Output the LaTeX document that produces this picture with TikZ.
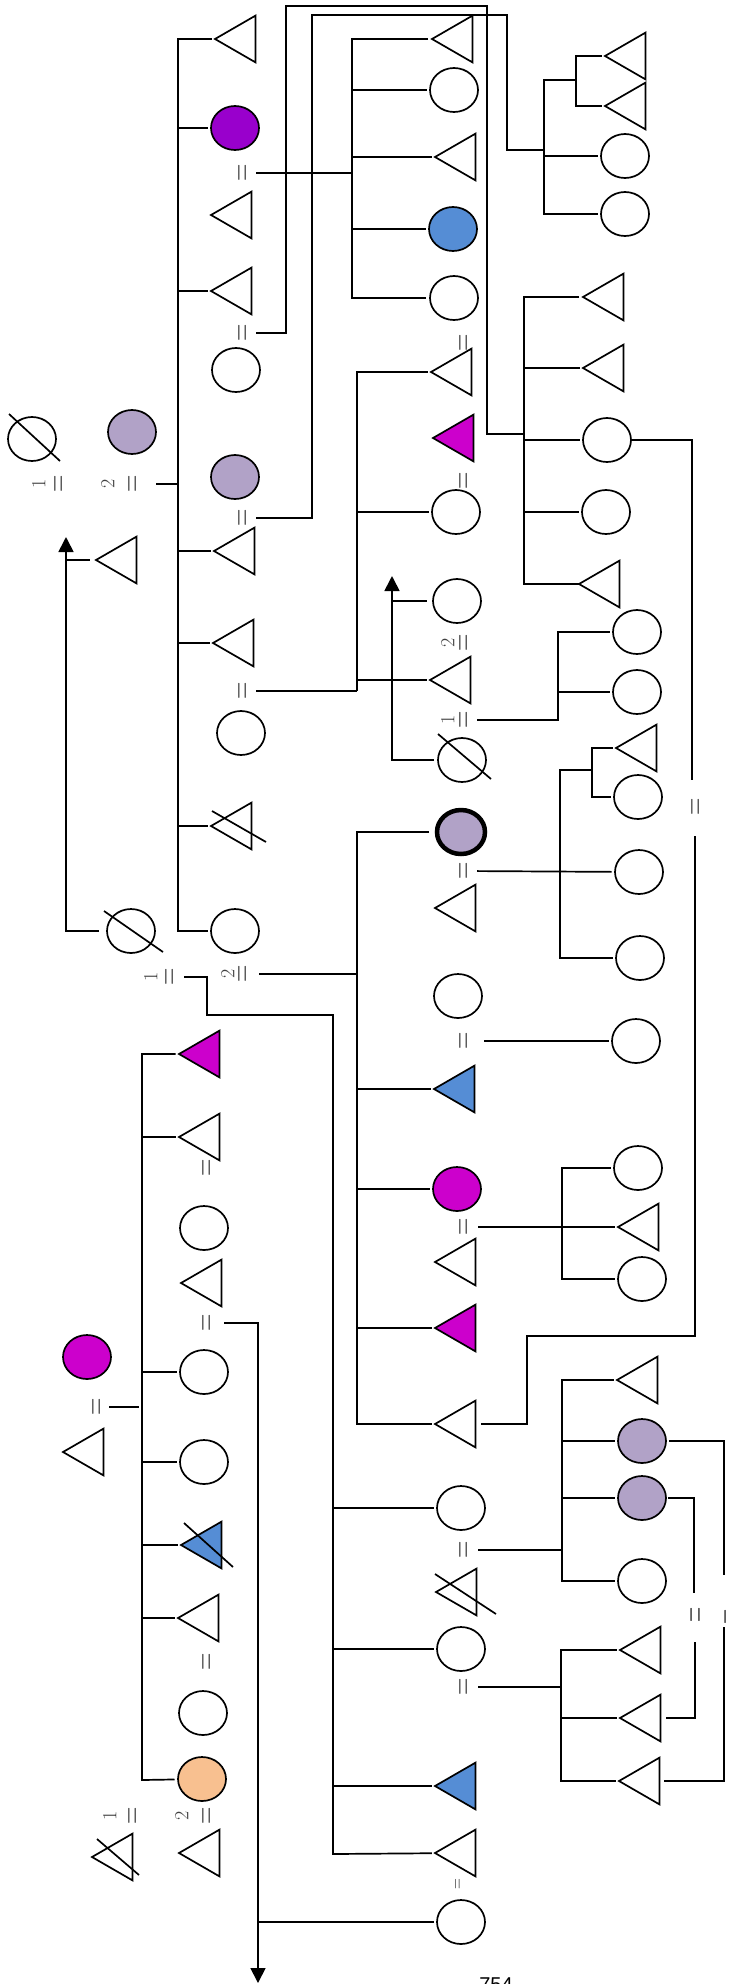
\documentclass[tikz,border=0pt]{standalone}
\usepackage{fontspec}
\newfontfamily\pagenumfont{Liberation Sans}
\usetikzlibrary{shapes.geometric,arrows.meta,calc}
\definecolor{purp}{RGB}{153,0,204}
\definecolor{lav}{RGB}{177,162,199}
\definecolor{blu}{RGB}{85,141,213}
\definecolor{mag}{RGB}{204,0,204}
\definecolor{peach}{RGB}{248,192,144}
\definecolor{eqgray}{RGB}{64,64,64}
\newcommand{\eqglyph}[1]{\scalebox{1}[#1]{=}}
\begin{document}
\begin{tikzpicture}[x=1pt,y=-1pt,
  ln/.style={line width=1.7pt},
  kid/.style={ln, shorten >=3.5pt},
  circ/.style={ellipse, draw, line width=1.7pt, minimum width=48pt, minimum height=44pt, inner sep=0pt, outer sep=0pt},
  tri/.style={regular polygon, regular polygon sides=3, shape border rotate=90, draw, line width=1.7pt, minimum size=54pt, inner sep=0pt, outer sep=0pt},
  eqs/.style={rotate=90, inner sep=0pt, text=eqgray, font=\fontsize{24}{24}\selectfont, text height=18pt, text depth=0pt},
  eqsmall/.style={rotate=90, inner sep=0pt, text=eqgray, font=\fontsize{15}{15}\selectfont, text height=11.25pt, text depth=0pt},
  eqwide/.style={rotate=90, inner sep=0pt, text=eqgray, font=\fontsize{21}{21}\selectfont, text height=22pt, text depth=0pt},
  num/.style={rotate=90, inner sep=0pt, text=eqgray, font=\fontsize{20}{20}\selectfont, text height=12.9pt, text depth=0pt},
  arr/.style={-{Triangle[length=15pt,width=15pt]}},
]
\useasboundingbox (0,0) rectangle (730,1984);

% ---------- generation I (far left) ----------
\node[circ] (X1) at (32,439) {};
\draw[ln] ($(X1)+(-23,-25)$) -- ($(X1)+(28,22)$);
\node[circ, fill=lav] (L1) at (132,432) {};
\node[num] at (39,484) {1};
\node[eqs] (eX1) at (58,484) {\eqglyph{1.5}};
\node[num] at (108,484) {2};
\node[eqs] (eL1) at (132,484) {\eqglyph{1.5}};

% ---------- first sibship (x = 178) ----------
\node[tri] (T1) at (242,39) {};
\node[circ, fill=purp] (C1) at (235,128) {};
\node[eqs] (eC) at (242,173) {\eqglyph{1.5}};
\node[tri] (T2) at (238,215) {};
\node[tri] (T3) at (238,291) {};
\node[eqs] (eA) at (242,333) {\eqglyph{1.5}};
\node[circ] (C2) at (236,370) {};
\node[circ, fill=lav] (C3) at (235,477) {};
\node[eqs] (eB) at (242,518) {\eqglyph{1.5}};
\node[tri] (T4) at (241,551) {};
\node[tri] (T5) at (240,643) {};
\node[eqs] (eF) at (242,691) {\eqglyph{1.5}};
\node[circ] (C5) at (241,733) {};
\node[tri] (T6) at (238,826) {};
\draw[ln] ($(T6)+(-26,-15)$) -- ($(T6)+(28,16)$);
\node[circ] (C4) at (235,931) {};
\node[tri] (T7) at (123,560) {};
\node[circ] (X2) at (131,931) {};
\draw[ln] ($(X2)+(-27,-20)$) -- ($(X2)+(32,21)$);
\node[num] at (151,977) {1};
\node[eqs] (e1b) at (169,977) {\eqglyph{1.5}};
\node[num] at (228,974) {2};
\node[eqs] (e2b) at (242,974) {\eqglyph{1.5}};

\coordinate (s1b) at (178,931);
\draw[ln, shorten <=3.5pt, shorten >=3.5pt] (T1) -| (s1b) -- (C4);
\foreach \k in {C1,T3,T4,T5,T6} \draw[kid] (s1b |- \k) -- (\k);
\draw[ln, shorten <=15pt] (eL1) -- (eL1 -| s1b);

\coordinate (ar1) at (66,537);
\draw[ln, arr, shorten <=8pt] (X2) -| (ar1);
\draw[ln, shorten >=6pt] (ar1 |- T7) -- (T7);

% ---------- second column ----------
\node[tri] (A1) at (459,39) {};
\node[circ] (A2) at (454,90) {};
\node[tri] (A3) at (462,157) {};
\node[circ, fill=blu] (A4) at (453,229) {};
\node[circ] (A5) at (454,298) {};
\coordinate (s2b) at (352,298);
\draw[ln, shorten <=4pt, shorten >=4pt] (A1) -| (s2b) -- (A5);
\foreach \k in {A2,A3,A4} \draw[kid] (s2b |- \k) -- (\k);
\draw[ln, shorten <=5pt] (eC) -- (eC -| s2b);

\node[eqs] at (463,343) {\eqglyph{1.5}};
\node[tri] (B1) at (458,372) {};
\node[tri, fill=mag] (B2) at (460,438) {};
\node[eqs] at (463,481) {\eqglyph{1.5}};
\node[circ] (B3) at (456,512) {};
\node[circ] (B4) at (457,601) {};
\node[num] at (448,643) {2};
\node[eqs] at (463,643) {\eqglyph{1.5}};
\node[tri] (B5) at (457,680) {};
\node[num] at (448,720) {1};
\node[eqs] (eG) at (463,720) {\eqglyph{1.5}};
\node[circ] (B6) at (462,760) {};
\draw[ln] ($(B6)+(-24,-26)$) -- ($(B6)+(29,19)$);

\coordinate (s6b) at (357,691);
\draw[ln, shorten <=3.5pt] (B1) -| (s6b);
\foreach \k in {B3,B5} \draw[kid] (s6b |- \k) -- (\k);
\draw[ln, shorten <=5pt] (eF) -- (s6b);

\coordinate (ar2) at (392,576);
\draw[ln, arr, shorten <=4pt] (B6) -| (ar2);
\draw[ln, shorten >=6pt] (ar2 |- B4) -- (B4);

% ---------- third column, upper part ----------
\node[tri] (E1) at (632,56) {};
\node[tri] (E2) at (632,106) {};
\node[circ] (E3) at (625,156) {};
\node[circ] (E4) at (625,214) {};
\node[tri] (D1) at (610,297) {};
\node[tri] (D2) at (610,368) {};
\node[circ] (D3) at (607,440) {};
\node[circ] (D4) at (606,512) {};
\node[tri] (D5) at (606,584) {};

\coordinate (a1) at (286,6);
\coordinate (a2) at (487,434);
\coordinate (s5b) at (524,584);
\draw[ln, shorten <=5pt] (eA) -| (a1) -| (a2) -- (a2 -| s5b);
\draw[ln, shorten <=4pt] (D1) -| (s5b) -- (D5);
\foreach \k in {D2,D3,D4} \draw[kid] (s5b |- \k) -- (\k);

\coordinate (b1) at (312,15);
\coordinate (b2) at (507,150);
\coordinate (s3t) at (544,80);
\coordinate (s3b) at (544,214);
\coordinate (s4b) at (576,106);
\draw[ln, shorten <=5pt] (eB) -| (b1) -| (b2) -- (b2 -| s3t);
\draw[ln, shorten >=3.5pt] (s3t -| s4b) -- (s3t) -- (s3b) -- (E4);
\draw[ln, shorten <=3.5pt, shorten >=3.5pt] (E1) -| (s4b) -- (E2);
\draw[kid] (s3b |- E3) -- (E3);

\node[circ] (F1) at (637,632) {};
\node[circ] (F2) at (637,692) {};
\coordinate (s7t) at (558,632);
\draw[ln, shorten <=5pt, shorten >=3.5pt] (eG) -| (s7t) -- (F1);
\draw[kid] (s7t |- F2) -- (F2);

\node[tri] (G1) at (643,748) {};
\node[circ] (G2) at (638,797) {};
\node[circ] (G3) at (639,872) {};
\node[circ] (G4) at (640,958) {};
\coordinate (s8t) at (560,770);
\coordinate (s8b) at (560,958);
\coordinate (s9b) at (592,797);
\draw[ln, shorten >=3.5pt] (s8t -| s9b) -- (s8t) -- (s8b) -- (G4);
\draw[ln, shorten <=3.5pt, shorten >=3.5pt] (G1) -| (s9b) -- (G2);

% ---------- second column, middle sibship (x = 357) ----------
\node[circ, fill=lav, line width=4.5pt] (H1) at (461,832) {};
\node[eqs] (eH) at (463,871) {\eqglyph{1.5}};
\node[tri] (H2) at (462,908) {};
\node[circ] (H3) at (458,996) {};
\node[eqs] (eI) at (463,1041) {\eqglyph{1.5}};
\node[tri, fill=blu] (H4) at (461,1089) {};
\node[circ, fill=mag] (H5) at (457,1189) {};
\node[eqs] (eJ) at (463,1227) {\eqglyph{1.5}};
\node[tri] (H6) at (462,1262) {};
\node[tri, fill=mag] (H7) at (462,1328) {};
\node[tri] (H8) at (462,1424) {};
\draw[ln, shorten <=5pt, shorten >=3.5pt] (eH) -- (G3);

\coordinate (s10b) at (357,1424);
\draw[ln, shorten <=8pt, shorten >=3.5pt] (H1) -| (s10b) -- (H8);
\foreach \k in {H4,H5,H7} \draw[kid] (s10b |- \k) -- (\k);
\draw[ln, shorten <=8pt] (e2b) -- (e2b -| s10b);

\node[circ] (I1) at (636,1041) {};
\draw[ln, shorten <=12pt, shorten >=3.5pt] (eI) -- (I1);

\node[circ] (J1) at (638,1168) {};
\node[tri] (J2) at (645,1227) {};
\node[circ] (J3) at (642,1279) {};
\coordinate (s11b) at (562,1279);
\draw[ln, shorten <=3.5pt, shorten >=3.5pt] (J1) -| (s11b) -- (J3);
\draw[ln, shorten <=6pt, shorten >=3.5pt] (eJ) -- (J2);

% long descent line on the right
\node[eqs] (eD) at (695,807) {\eqglyph{1.5}};
\coordinate (g1) at (692,780);
\coordinate (g2) at (695,836);
\coordinate (g3) at (695,1336);
\coordinate (g4) at (527,1424);
\draw[ln, shorten <=1pt] (D3) -- (D3 -| g1) -- (g1);
\draw[ln, shorten >=5pt] (g2) -- (g3) -| (g4) -- (H8);

% ---------- second column, lower sibship (x = 333) ----------
\node[circ] (K1) at (461,1508) {};
\node[eqs] (eM) at (463,1550) {\eqglyph{1.5}};
\node[tri] (K2) at (463,1592) {};
\draw[ln] ($(K2)+(-28,-18)$) -- ($(K2)+(33,22)$);
\node[circ] (K3) at (461,1649) {};
\node[eqs] (eN) at (463,1687) {\eqglyph{1.5}};
\node[tri, fill=blu] (K4) at (462,1786) {};
\node[tri] (K5) at (462,1853) {};
\node[eqsmall] at (457,1884) {\eqglyph{1.4}};
\node[circ] (K6) at (461,1922) {};

\coordinate (c1) at (207,1015);
\coordinate (s12b) at (333,1854);
\draw[ln, shorten <=6pt, shorten >=3.5pt] (e1b) -| (c1) -| (s12b) -- (K5);
\foreach \k in {K1,K3,K4} \draw[kid] (s12b |- \k) -- (\k);

\node[tri] (M1) at (644,1380) {};
\node[circ, fill=lav] (M2) at (642,1441) {};
\node[circ, fill=lav] (M3) at (642,1498) {};
\node[circ] (M4) at (642,1581) {};
\coordinate (s13b) at (562,1581);
\draw[ln, shorten <=3.5pt, shorten >=3.5pt] (M1) -| (s13b) -- (M4);
\draw[kid] (s13b |- M2) -- (M2);
\draw[kid] (s13b |- M3) -- (M3);
\draw[ln, shorten <=6pt] (eM) -- (eM -| s13b);

\node[tri] (N1) at (647,1650) {};
\node[tri] (N2) at (647,1718) {};
\node[tri] (N3) at (646,1781) {};
\coordinate (s14b) at (561,1781);
\draw[ln, shorten <=3.5pt, shorten >=3.5pt] (N1) -| (s14b) -- (N3);
\draw[kid] (s14b |- N2) -- (N2);
\draw[ln, shorten <=6pt] (eN) -- (eN -| s14b);

\node[eqwide] at (695,1615) {\eqglyph{2.1}};
\node[eqwide] at (729,1617) {\eqglyph{2.1}};
\coordinate (h1) at (724,1575);
\coordinate (h2) at (724,1627);
\coordinate (h3) at (694,1593);
\coordinate (h4) at (695,1642);
\draw[ln, shorten <=3pt] (M2) -| (h1);
\draw[ln, shorten >=4pt] (h2) |- (N3);
\draw[ln, shorten <=2pt] (M3) -| (h3);
\draw[ln, shorten >=5pt] (h4) |- (N2);

% ---------- bottom-left sibship (x = 142) ----------
\node[tri, fill=mag] (P1) at (206,1054) {};
\node[tri] (P2) at (206,1137) {};
\node[eqs] at (206,1168) {\eqglyph{1.5}};
\node[circ] (P3) at (204,1228) {};
\node[tri] (P4) at (208,1283) {};
\node[eqs] (eQ) at (206,1323) {\eqglyph{1.5}};
\node[circ] (P5) at (204,1372) {};
\node[circ] (P6) at (204,1462) {};
\node[tri, fill=blu] (P7) at (208,1545) {};
\draw[ln] ($(P7)+(-24,-22)$) -- ($(P7)+(25,22)$);
\node[tri] (P8) at (205,1618) {};
\node[eqs] at (206,1662) {\eqglyph{1.5}};
\node[circ] (P9) at (203,1713) {};
\node[circ, fill=peach] (P10) at (202,1779) {};
\node[num] at (182,1816) {2};
\node[eqs] at (206,1816) {\eqglyph{1.5}};
\node[tri] (P11) at (206,1853) {};
\node[num] at (110,1816) {1};
\node[eqs] at (132,1816) {\eqglyph{1.5}};
\node[tri] (P12) at (119,1857) {};
\draw[ln] ($(P12)+(-22,-18)$) -- ($(P12)+(20,18)$);

\node[circ, fill=mag] (Q1) at (87,1357) {};
\node[eqs] (eP) at (96,1407) {\eqglyph{1.5}};
\node[tri] (Q2) at (90,1452) {};

\coordinate (s15b) at (142,1780);
\draw[ln, shorten <=3.5pt, shorten >=3.5pt] (P1) -| (s15b) -- (P10);
\foreach \k in {P2,P5,P6,P7,P8} \draw[kid] (s15b |- \k) -- (\k);
\draw[ln, shorten <=4pt, shorten >=3pt] (eP) -- (eP -| s15b);

\coordinate (ar3) at (258,1983);
\draw[ln, arr, shorten <=9pt] (eQ) -| (ar3);
\draw[kid] (ar3 |- K6) -- (K6);

% page number
\node[font=\pagenumfont\fontsize{20}{24}\selectfont, anchor=base, inner sep=0pt] (pg) at (496,1991) {754};
\end{tikzpicture}
\end{document}
